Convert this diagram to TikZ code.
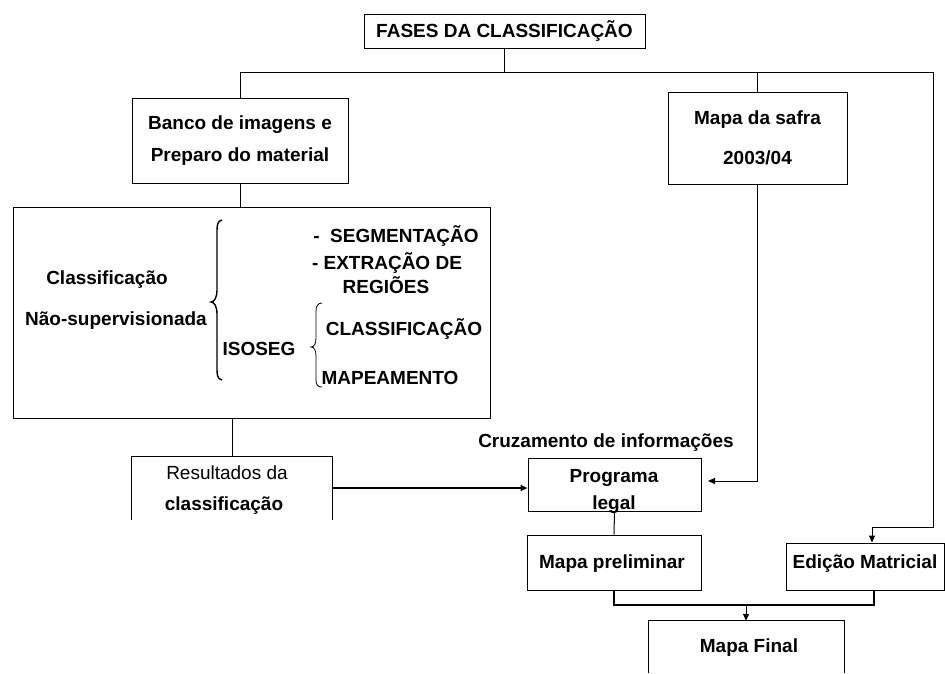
\documentclass[tikz,border=0pt]{standalone}
\usepackage{fontspec}
\setmainfont{Liberation Sans}
\usetikzlibrary{arrows.meta}
\begin{document}
\begin{tikzpicture}[x=1pt,y=-1pt,
  box/.style={draw, line width=1pt, inner sep=0pt, align=center, font=\bfseries\fontsize{19}{23}\selectfont},
  lbl/.style={inner sep=0pt, align=center, font=\bfseries\fontsize{19}{23}\selectfont},
  ln/.style={line width=1pt},
  thickln/.style={line width=2pt},
  arr/.style={-{Triangle[length=7pt,width=6pt]}}
]
\fill[white] (0,0) rectangle (945,673);
\useasboundingbox (0,0) rectangle (945,673);

% boxes
\node[box, minimum width=281pt, minimum height=34pt] (top) at (504.5,31) {FASES DA CLASSIFICAÇÃO};
\node[box, minimum width=216pt, minimum height=85pt, font=\bfseries\fontsize{19}{32}\selectfont] (banco) at (240,140.5) {Banco de imagens e\\Preparo do material};
\node[box, minimum width=179pt, minimum height=92pt, font=\bfseries\fontsize{19}{40}\selectfont] (safra) at (757.5,138) {Mapa da safra\\2003/04};
\node[draw, line width=1pt, inner sep=0pt, minimum width=477pt, minimum height=211pt] (cls) at (251.5,312.5) {};

% contents of classification box
\node[lbl] (c1) at (107,280) {Classificação};
\node[lbl] (c2) at (116,321) {Não-supervisionada};
\node[lbl] (s1) at (396,236) {-\ \ SEGMENTAÇÃO};
\node[lbl] (s2) at (387,263) {- EXTRAÇÃO DE};
\node[lbl] (s3) at (386,285) {REGIÕES};
\node[lbl] (iso) at (259,349) {ISOSEG};
\node[lbl] (s4) at (404,329) {CLASSIFICAÇÃO};
\node[lbl] (s5) at (390,378) {MAPEAMENTO};
\draw[line width=1.4pt] (222,220) .. controls (217,221) and (217,226) .. (217,232) -- (217,290)
  .. controls (217,298) and (214,302) .. (211,302) .. controls (214,302) and (217,306) .. (217,314)
  -- (217,368) .. controls (217,374) and (217,379) .. (222,380);
\draw[line width=0.8pt] (322,303) .. controls (318,303) and (316,306) .. (316,311) -- (316,338)
  .. controls (316,344) and (314,347) .. (311,347) .. controls (314,347) and (316,350) .. (316,356)
  -- (316,380) .. controls (316,385) and (318,387) .. (322,387);

% results (open at the bottom)
\node[inner sep=0pt, minimum width=200pt, minimum height=63pt] (res) at (232,488) {};
\draw[ln] (res.south west) -- (res.north west) -- (res.north east) -- (res.south east);
\node[lbl, font=\fontsize{19}{23}\selectfont] (res1) at (227,473) {Resultados da};
\node[lbl] (res2) at (224,506) {classificação};

\node[lbl] (cruz) at (606,443) {Cruzamento de informações};
\node[draw, line width=1pt, inner sep=0pt, minimum width=173pt, minimum height=53pt] (prog) at (614.5,484.5) {};
\node[lbl, font=\bfseries\fontsize{19}{27}\selectfont] (progtxt) at (614,491) {Programa\\legal};

\node[draw, line width=1pt, inner sep=0pt, minimum width=174pt, minimum height=55pt] (prelim) at (614,562.5) {};
\node[lbl] (prelimtxt) at (612,564) {Mapa preliminar};
\node[draw, line width=1pt, inner sep=0pt, minimum width=158.5pt, minimum height=47pt] (edic) at (865.25,566.5) {};
\node[lbl] (edictxt) at (865,564) {Edição Matricial};

\node[inner sep=0pt, minimum width=195pt, minimum height=52pt] (fin) at (746.5,647) {};
\node[lbl] (fintxt) at (749,648) {Mapa Final};
\draw[ln] (fin.south west) -- (fin.north west) -- (fin.north east) -- (fin.south east);

% connectors
\coordinate (j1) at (504.5,72);
\coordinate (rc) at (933,72);
\coordinate (rb) at (933,527);
\coordinate (eb) at (872,527);
\coordinate (sa) at (708,481);
\coordinate (m2) at (874,605);
\coordinate (m3) at (746,605);

\draw[ln] (top.south) -- (j1);
\draw[ln] (banco.north) |- (rc) -- (rb) -- (eb);
\draw[ln, arr] (eb) -- (eb |- edic.north);
\draw[ln] (safra.north) -- (safra.north |- j1);
\draw[ln] (banco.south) -- (banco.south |- cls.north);
\draw[ln] (res.north) -- (res.north |- cls.south);
\draw[thickln, arr] (res.east) -- (res.east -| prog.west);
\draw[ln, arr] (safra.south) |- (sa);
\draw[ln] (prog.south) -- (prelim.north);
\draw[thickln] (prelim.south) |- (m2) -- (m2 |- edic.south);
\draw[ln, arr] (m3) -- (m3 |- fin.north);
\end{tikzpicture}
\end{document}
